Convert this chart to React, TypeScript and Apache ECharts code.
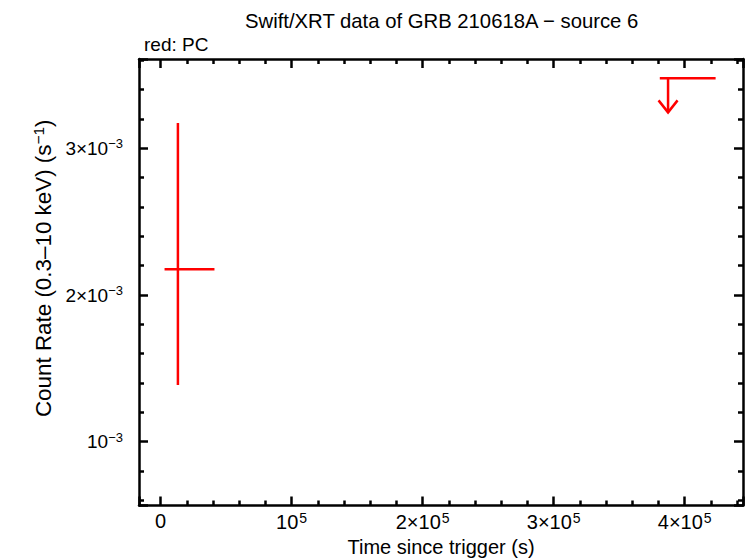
import React, { useEffect, useRef } from "react";
import * as echarts from "echarts";

// ---- data ----
const titleText = "Swift/XRT data of GRB 210618A \u2212 source 6";
const subtitleText = "red: PC";
const xAxisName = "Time since trigger (s)";

// PC mode detection (with x/y errors)
const pcTime = [13200];
const pcTimeLo = [3000];
const pcTimeHi = [41100];
const pcRate = [2.175e-3];
const pcRateLo = [1.386e-3];
const pcRateHi = [3.172e-3];

// PC mode upper limit
const ulTime = [387300];
const ulTimeLo = [381000];
const ulTimeHi = [423600];
const ulRate = [3.477e-3];

// axis extents
const xMin = -16500;
const xMax = 444500;
const yMin = 0.565e-3;
const yMax = 3.609e-3;

const FONT = "'Liberation Sans', Arial, Helvetica, sans-serif";
const RED = "#ff0000";

const richY = {
  b: { fontSize: 19, fontFamily: FONT, color: "#000" },
  s: { fontSize: 13, fontFamily: FONT, color: "#000", padding: [0, 0, 9, 0] },
};
const richX = {
  b: { fontSize: 20, fontFamily: FONT, color: "#000" },
  s: { fontSize: 14, fontFamily: FONT, color: "#000", padding: [0, 0, 9, 1] },
};

function xFmt(v: number) {
  if (Math.abs(v) < 1) return "{b|0}";
  const k = Math.round(v / 1e5);
  if (k === 1) return "{b|10}{s|5}";
  return `{b|${k}\u00d710}{s|5}`;
}
function yFmt(v: number) {
  const k = Math.round(v * 1e3);
  if (k === 1) return "{b|10}{s|\u22123}";
  return `{b|${k}\u00d710}{s|\u22123}`;
}

const lineStyle = { color: "#000", width: 2.5 };

export default function App() {
  const ref = useRef<HTMLDivElement>(null);
  useEffect(() => {
    if (!ref.current) return;
    const chart = echarts.init(ref.current, undefined, { renderer: "svg" });
    const common = {
      type: "value",
      splitLine: { show: false },
      axisTick: { show: true, inside: true, length: 9, lineStyle },
      minorTick: { show: true, splitNumber: 5, length: 5, lineStyle },
      minorSplitLine: { show: false },
      axisLine: { show: true, onZero: false, lineStyle },
    };
    const pcData = pcTime.map((t, i) => [t, pcTimeLo[i], pcTimeHi[i], pcRate[i], pcRateLo[i], pcRateHi[i]]);
    const ulData = ulTime.map((t, i) => [t, ulTimeLo[i], ulTimeHi[i], ulRate[i]]);

    chart.setOption({
      animation: false,
      backgroundColor: "#fff",
      title: [
        { text: titleText, left: 240, top: 6, textStyle: { fontFamily: FONT, fontSize: 20.3, fontWeight: "normal", color: "#000" } },
        { text: subtitleText, left: 139, top: 30, textStyle: { fontFamily: FONT, fontSize: 19, fontWeight: "normal", color: "#000" } },
      ],
      grid: { left: 139, top: 59, width: 604, height: 446.5, outerBoundsMode: "none" },
      xAxis: [
        {
          ...common,
          position: "bottom",
          min: xMin,
          max: xMax,
          splitNumber: 4,
          axisLabel: {
            show: true,
            formatter: xFmt,
            rich: richX,
            margin: 5,
            showMinLabel: false,
            showMaxLabel: false,
          },
          name: xAxisName,
          nameLocation: "middle",
          nameGap: 31,
          nameTextStyle: { fontFamily: FONT, fontSize: 20, color: "#000" },
        },
        {
          ...common,
          position: "top",
          min: xMin,
          max: xMax,
          splitNumber: 4,
          axisLabel: { show: false },
        },
      ],
      yAxis: [
        {
          ...common,
          position: "left",
          min: yMin,
          max: yMax,
          splitNumber: 3,
          axisLabel: {
            show: true,
            formatter: yFmt,
            rich: richY,
            margin: 16,
            showMinLabel: false,
            showMaxLabel: false,
          },
          name: "Count Rate (0.3\u201310 keV) (s{s|\u22121})",
          nameLocation: "middle",
          nameGap: 77,
          nameTextStyle: {
            fontFamily: FONT,
            fontSize: 22.4,
            color: "#000",
            padding: [0, 0, 0, 28],
            rich: {
              s: { fontSize: 15.5, fontFamily: FONT, color: "#000", padding: [0, 0, 10, 0] },
            },
          },
        },
        {
          ...common,
          position: "right",
          min: yMin,
          max: yMax,
          splitNumber: 3,
          axisLabel: { show: false },
        },
      ],
      series: [
        {
          type: "custom",
          name: "PC",
          xAxisIndex: 0,
          yAxisIndex: 0,
          data: pcData,
          encode: { x: 0, y: 3 },
          renderItem: (_p: any, api: any) => {
            const x = api.value(0), xl = api.value(1), xh = api.value(2);
            const y = api.value(3), yl = api.value(4), yh = api.value(5);
            const a = api.coord([xl, y]);
            const b = api.coord([xh, y]);
            const c = api.coord([x, yh]);
            const d = api.coord([x, yl]);
            const st = { stroke: RED, lineWidth: 2.5 };
            return {
              type: "group",
              children: [
                { type: "line", shape: { x1: a[0], y1: a[1], x2: b[0], y2: b[1] }, style: st },
                { type: "line", shape: { x1: c[0], y1: c[1], x2: d[0], y2: d[1] }, style: st },
              ],
            };
          },
        },
        {
          type: "custom",
          name: "PC upper limit",
          xAxisIndex: 0,
          yAxisIndex: 0,
          data: ulData,
          encode: { x: 0, y: 3 },
          renderItem: (_p: any, api: any) => {
            const x = api.value(0), xl = api.value(1), xh = api.value(2);
            const y = api.value(3);
            const a = api.coord([xl, y]);
            const b = api.coord([xh, y]);
            const c = api.coord([x, y]);
            const st = { stroke: RED, lineWidth: 2.5, fill: "none" };
            const len = 34;
            return {
              type: "group",
              children: [
                { type: "line", shape: { x1: a[0], y1: a[1], x2: b[0], y2: b[1] }, style: st },
                { type: "line", shape: { x1: c[0], y1: c[1], x2: c[0], y2: c[1] + len }, style: st },
                {
                  type: "polyline",
                  shape: { points: [[c[0] - 9.5, c[1] + len - 12], [c[0], c[1] + len], [c[0] + 9.5, c[1] + len - 12]] },
                  style: st,
                },
              ],
            };
          },
        },
      ],
    });
    return () => chart.dispose();
  }, []);
  return <div ref={ref} style={{ width: 746, height: 558, position: "absolute", left: 0, top: 0 }} />;
}
